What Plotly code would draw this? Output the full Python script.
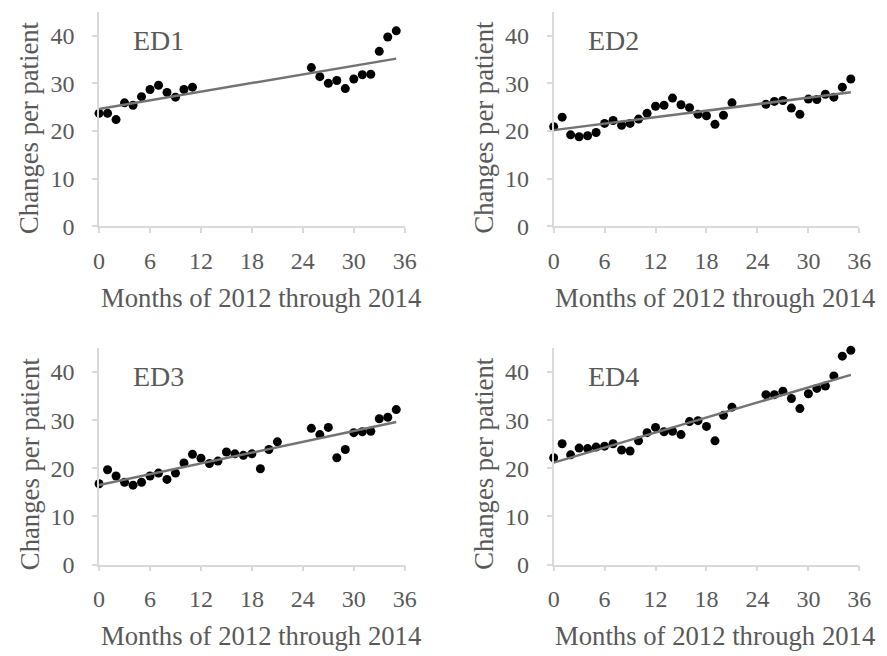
import numpy as np
import plotly.graph_objects as go

W, H = 887, 656

# ---- data ----
months_ed1 = [0,1,2,3,4,5,6,7,8,9,10,11,25,26,27,28,29,30,31,32,33,34,35]
ed1 = [23.7,23.7,22.4,25.9,25.4,27.2,28.7,29.6,28.1,27.1,28.7,29.2,
       33.3,31.4,30.0,30.6,28.9,30.9,31.8,31.9,36.7,39.7,41.0]

months_full = [0,1,2,3,4,5,6,7,8,9,10,11,12,13,14,15,16,17,18,19,20,21,
               25,26,27,28,29,30,31,32,33,34,35]
ed2 = [20.9,22.9,19.2,18.8,19.0,19.7,21.6,22.2,21.2,21.6,22.5,23.7,25.2,25.4,26.9,25.5,
       24.9,23.5,23.2,21.4,23.3,25.9,
       25.6,26.2,26.4,24.8,23.5,26.7,26.6,27.7,27.1,29.2,30.9]
ed3 = [16.8,19.7,18.4,17.1,16.5,17.1,18.4,19.0,17.7,19.0,21.1,22.9,22.1,21.0,21.5,23.4,
       23.0,22.7,23.0,19.9,23.9,25.5,
       28.3,27.0,28.5,22.2,23.9,27.4,27.6,27.7,30.3,30.6,32.2]
ed4 = [22.2,25.1,22.8,24.2,24.1,24.4,24.6,25.1,23.8,23.6,25.7,27.4,28.5,27.6,27.7,27.0,
       29.7,29.9,28.7,25.7,31.0,32.7,
       35.3,35.3,36.0,34.5,32.4,35.5,36.6,37.1,39.2,43.3,44.5]

labels = ["ED1", "ED2", "ED3", "ED4"]
x_ticks = [0, 6, 12, 18, 24, 30, 36]
y_ticks = [0, 10, 20, 30, 40]
x_title = "Months of 2012 through 2014"
y_title = "Changes per patient"

series = [(months_ed1, ed1), (months_full, ed2), (months_full, ed3), (months_full, ed4)]

# ---- layout (pixel boxes of plot areas) ----
boxes = [(95, 407, 12, 231), (559, 871, 12, 231),
         (95, 407, 355, 576), (559, 871, 355, 576)]

TXT = "#595959"
AX = "#d9d9d9"
FONT = "Liberation Serif, Times New Roman, serif"

fig = go.Figure()
layout = dict(width=W, height=H, margin=dict(l=0, r=0, t=0, b=0),
              paper_bgcolor="white", plot_bgcolor="white", showlegend=False,
              font=dict(family=FONT, color=TXT))
annotations = []

for i, ((mx, vals), (x0, x1, y0, y1), lab) in enumerate(zip(series, boxes, labels)):
    n = i + 1
    xa = "x" if n == 1 else f"x{n}"
    ya = "y" if n == 1 else f"y{n}"
    xkey = "xaxis" if n == 1 else f"xaxis{n}"
    ykey = "yaxis" if n == 1 else f"yaxis{n}"

    fig.add_trace(go.Scatter(x=mx, y=vals, mode="markers",
                             marker=dict(color="black", size=9),
                             xaxis=xa, yaxis=ya, cliponaxis=False))
    slope, icpt = np.polyfit(mx, vals, 1)
    tx = [0, 35]
    fig.add_trace(go.Scatter(x=tx, y=[icpt + slope * t for t in tx], mode="lines",
                             line=dict(color="#737373", width=2.5),
                             xaxis=xa, yaxis=ya))

    layout[xkey] = dict(domain=[x0 / W, x1 / W], range=[0, 36], anchor=ya,
                        tickvals=x_ticks, showgrid=False, zeroline=False,
                        showline=True, linecolor=AX, linewidth=1.5,
                        ticks="outside", ticklen=5, tickcolor=AX, tickwidth=1.5,
                        ticklabelstandoff=7,
                        tickfont=dict(size=24, color=TXT, family=FONT))
    layout[ykey] = dict(domain=[1 - y1 / H, 1 - y0 / H], range=[0, 45], anchor=xa,
                        tickvals=y_ticks, showgrid=False, zeroline=False,
                        showline=True, linecolor=AX, linewidth=1.5,
                        ticks="outside", ticklen=5, tickcolor=AX, tickwidth=1.5,
                        ticklabelstandoff=13,
                        tickfont=dict(size=24, color=TXT, family=FONT))

    annotations.append(dict(text=lab, xref="paper", yref="paper",
                            x=(x0 + 33) / W, y=1 - (y0 + 29) / H,
                            xanchor="left", yanchor="middle", showarrow=False,
                            font=dict(size=28, color=TXT, family=FONT)))
    annotations.append(dict(text=x_title, xref="paper", yref="paper",
                            x=(x0 + 165) / W, y=1 - (y1 + 73) / H,
                            xanchor="center", yanchor="middle", showarrow=False,
                            font=dict(size=26.7, color=TXT, family=FONT)))
    annotations.append(dict(text=y_title, xref="paper", yref="paper",
                            x=(x0 - 71) / W, y=1 - (y0 + 118) / H,
                            xanchor="center", yanchor="middle", showarrow=False,
                            textangle=-90,
                            font=dict(size=26.7, color=TXT, family=FONT)))

layout["annotations"] = annotations
fig.update_layout(**layout)
fig.write_html("out.html", config={"displayModeBar": False},
               post_script="document.body.style.margin='0';document.body.style.padding='0';")
